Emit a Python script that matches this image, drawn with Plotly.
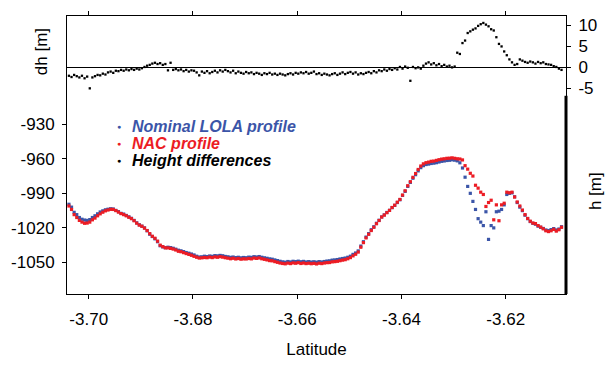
import plotly.graph_objects as go

latitude = [
    -3.7038, -3.7033, -3.7028, -3.7023, -3.7018, -3.7013, -3.7008, -3.7003, -3.6998, -3.6993,
    -3.6988, -3.6983, -3.6978, -3.6973, -3.6968, -3.6963, -3.6958, -3.6953, -3.6948, -3.6943,
    -3.6938, -3.6933, -3.6928, -3.6923, -3.6918, -3.6913, -3.6908, -3.6903, -3.6898, -3.6893,
    -3.6888, -3.6883, -3.6878, -3.6873, -3.6868, -3.6863, -3.6858, -3.6853, -3.6848, -3.6843,
    -3.6838, -3.6833, -3.6828, -3.6823, -3.6818, -3.6813, -3.6808, -3.6803, -3.6798, -3.6793,
    -3.6788, -3.6783, -3.6778, -3.6773, -3.6768, -3.6763, -3.6758, -3.6753, -3.6748, -3.6743,
    -3.6738, -3.6733, -3.6728, -3.6723, -3.6718, -3.6713, -3.6708, -3.6703, -3.6698, -3.6693,
    -3.6688, -3.6683, -3.6678, -3.6673, -3.6668, -3.6663, -3.6658, -3.6653, -3.6648, -3.6643,
    -3.6638, -3.6633, -3.6628, -3.6623, -3.6618, -3.6613, -3.6608, -3.6603, -3.6598, -3.6593,
    -3.6588, -3.6583, -3.6578, -3.6573, -3.6568, -3.6563, -3.6558, -3.6553, -3.6548, -3.6543,
    -3.6538, -3.6533, -3.6528, -3.6523, -3.6518, -3.6513, -3.6508, -3.6503, -3.6498, -3.6493,
    -3.6488, -3.6483, -3.6478, -3.6473, -3.6468, -3.6463, -3.6458, -3.6453, -3.6448, -3.6443,
    -3.6438, -3.6433, -3.6428, -3.6423, -3.6418, -3.6413, -3.6408, -3.6403, -3.6398, -3.6393,
    -3.6388, -3.6383, -3.6378, -3.6373, -3.6368, -3.6363, -3.6358, -3.6353, -3.6348, -3.6343,
    -3.6338, -3.6333, -3.6328, -3.6323, -3.6318, -3.6313, -3.6308, -3.6303, -3.6298, -3.6293,
    -3.6288, -3.6283, -3.6278, -3.6273, -3.6268, -3.6263, -3.6258, -3.6253, -3.6248, -3.6243,
    -3.6238, -3.6233, -3.6228, -3.6223, -3.6218, -3.6213, -3.6208, -3.6203, -3.6198, -3.6193,
    -3.6188, -3.6183, -3.6178, -3.6173, -3.6168, -3.6163, -3.6158, -3.6153, -3.6148, -3.6143,
    -3.6138, -3.6133, -3.6128, -3.6123, -3.6118, -3.6113, -3.6108, -3.6103, -3.6098, -3.6093,
]

lola_h = [
    -999.5, -1002, -1006.5, -1008.5, -1011, -1012.5, -1013.2, -1013.5, -1012.8, -1011,
    -1009.5, -1007.8, -1006.2, -1005.2, -1004.3, -1003.8, -1003.4, -1003.6, -1004.8, -1005.9,
    -1007.4, -1008, -1009.2, -1010.4, -1011.7, -1013.5, -1015.6, -1017.3, -1018.5, -1020,
    -1022.5, -1025.5, -1027.5, -1029.5, -1032, -1035.5, -1036.5, -1037.2, -1036.8, -1037.1,
    -1037.7, -1038.5, -1039.4, -1039.9, -1040.6, -1041.4, -1042, -1042.7, -1043.5, -1044.6,
    -1045.3, -1045.1, -1044.6, -1044.9, -1044.4, -1044.7, -1044.1, -1044.3, -1043.9, -1044.2,
    -1044.8, -1045.1, -1045.6, -1045.3, -1045.8, -1045.5, -1046, -1045.7, -1045.9, -1045.4,
    -1045.6, -1045, -1045.3, -1044.9, -1045.5, -1046, -1046.4, -1046.9, -1047.2, -1047.8,
    -1048.4, -1049, -1049.5, -1049.8, -1049.2, -1049.6, -1049, -1049.3, -1048.9, -1049.4,
    -1049.1, -1049.6, -1049.3, -1049.7, -1049.4, -1049.8, -1049.3, -1049.6, -1049.2, -1048.8,
    -1048.6, -1048, -1047.8, -1047.5, -1047, -1046.6, -1046.2, -1045.5, -1044.6, -1043,
    -1041.8, -1040, -1035.8, -1032, -1028, -1025, -1021.6, -1019, -1016, -1013.4,
    -1010.5, -1008.7, -1006.6, -1004.8, -1002.4, -1000.5, -998, -995.6, -991.8, -988.3,
    -984, -980.5, -976.9, -973.8, -970.5, -967.7, -966, -965, -964.6, -964.1,
    -963.8, -963.4, -962.8, -962.2, -961.9, -961.5, -961.3, -960.9, -961.2, -961.8,
    -963.5, -968, -976, -984, -990, -997, -1004, -1012, -1015, -1018,
    -1006, -1030, -1018, -1020, -1006, -1005.5, -1004, -1000, -991, -990,
    -989.6, -993, -998, -1002, -1005, -1009, -1012, -1014.5, -1016, -1016.8,
    -1018.5, -1019.5, -1020.5, -1021.8, -1022.3, -1021.5, -1020.6, -1021.8, -1021, -1019,
]

nac_h = [
    -1001, -1004, -1008.5, -1011, -1013.5, -1015, -1016, -1015.8, -1015, -1013,
    -1011.5, -1009.5, -1007.8, -1006.4, -1005.2, -1004.5, -1003.9, -1004, -1005, -1006.3,
    -1007.6, -1008.5, -1009.5, -1010.8, -1012, -1013.8, -1015.9, -1017.6, -1018.6, -1020.2,
    -1022.3, -1025, -1027.3, -1029, -1031.5, -1035, -1036.3, -1037.3, -1037.4, -1037.8,
    -1038.4, -1039.2, -1040.3, -1040.7, -1041.5, -1042.3, -1043, -1043.8, -1044.7, -1045.5,
    -1046.2, -1046, -1045.7, -1045.9, -1045.4, -1045.8, -1045.2, -1045.5, -1045, -1045.4,
    -1045.9, -1046.3, -1046.8, -1046.4, -1047, -1046.6, -1047.2, -1046.9, -1047, -1046.6,
    -1046.9, -1046.2, -1046.5, -1046.1, -1046.8, -1047.3, -1047.8, -1048.4, -1048.6, -1049.3,
    -1049.9, -1050.5, -1050.9, -1051.2, -1050.6, -1051, -1050.4, -1050.7, -1050.2, -1050.9,
    -1050.5, -1051, -1050.7, -1051.1, -1050.8, -1051.3, -1050.7, -1051, -1050.5, -1050.2,
    -1050.1, -1049.5, -1049.3, -1049, -1048.5, -1048, -1047.6, -1046.8, -1045.8, -1044.3,
    -1042.9, -1041, -1036.8, -1032.8, -1028.7, -1025.6, -1022.3, -1019.5, -1016.4, -1013.6,
    -1010.6, -1008.9, -1006.8, -1004.8, -1002.3, -1000.3, -997.7, -995.3, -991.5, -987.8,
    -983.4, -979.9, -976.1, -972.8, -969.3, -966.3, -964.4, -963.4, -962.9, -962.2,
    -962, -961.4, -960.8, -960.3, -960, -959.6, -959.5, -959.2, -959.6, -960,
    -960.2, -961, -966, -969, -972.6, -975, -983, -985.5, -989, -991,
    -1001.4, -998, -996, -1013, -1000, -1013.8, -1000, -998.6, -989, -989.5,
    -989, -993.2, -997.5, -1001, -1004.5, -1008.5, -1011.8, -1014.2, -1015.8, -1016.3,
    -1018, -1019.3, -1020.8, -1022.5, -1023.2, -1022.5, -1021.3, -1022.8, -1021.6, -1019.5,
]

height_diff = [
    -2.0, -2.3, -1.8, -2.1, -2.4, -2.0, -2.6, -2.2, -5.0, -2.4,
    -2.1, -1.8, -1.9, -1.5, -1.7, -1.2, -1.0, -1.3, -0.8, -0.9,
    -0.6, -0.8, -0.5, -0.7, -0.4, -0.6, -0.3, -0.5, -0.2, 0.1,
    0.4, 0.6, 0.9, 1.1, 0.8, 1.0, 0.6, 0.8, -0.7, 1.1,
    -0.6, -0.4, -0.7, -0.5, -0.9, -0.6, -1.0, -0.7, -0.8, -1.2,
    -1.9, -1.0, -1.3, -0.9, -1.4, -1.1, -0.8, -1.2, -0.7, -1.0,
    -0.6, -0.9, -1.2, -0.8, -1.4, -1.0, -1.3, -1.5, -1.1, -1.4,
    -1.2, -1.6, -1.3, -1.5, -1.8, -1.4, -1.6, -1.3, -1.7, -1.5,
    -1.8, -1.5, -1.7, -1.9, -1.6, -1.4, -1.7, -1.3, -1.5, -1.2,
    -1.4, -1.1, -1.5, -1.3, -1.0, -1.6, -1.4, -1.8, -1.5, -1.7,
    -1.9, -1.6, -1.4, -1.8, -1.5, -1.2, -1.6, -1.3, -1.1, -1.5,
    -1.2, -1.7, -1.4, -1.6, -1.3, -1.1, -1.4, -0.9, -1.2, -0.7,
    -0.9, -0.5, -0.8, -0.4, -0.6, -0.2, -0.5, 0.1, -0.3, 0.2,
    -0.1, -3.2, 0.1, -0.2, 0.0, -0.3, 0.4, 0.9, 1.2, 0.7,
    1.0, 0.5, 0.8, 0.3, 0.6, 0.2, 0.4, 0.0, 0.2, 3.5,
    3.2, 5.8, 6.4, 8.2, 8.6, 9.0, 9.3, 9.9, 10.3, 10.6,
    10.2, 9.8, 9.1, 8.8, 7.2, 5.6, 5.0, 3.8, 2.9, 1.9,
    1.2, 0.6, 0.8, 1.9, 1.6, 1.3, 1.1, 1.4, 1.2, 0.9,
    1.3, 1.0, 1.2, 0.8, 0.7, 0.6, 0.3, 0.1, -0.3, -0.6,
]

x_ticks = [-3.70, -3.68, -3.66, -3.64, -3.62]
x_tick_labels = ["-3.70", "-3.68", "-3.66", "-3.64", "-3.62"]
h_ticks = [-930, -960, -990, -1020, -1050]
h_tick_labels = ["-930", "-960", "-990", "-1020", "-1050"]
dh_ticks = [-5, 0, 5, 10]
dh_tick_labels = ["-5", "0", "5", "10"]
legend_labels = ["Nominal LOLA profile", "NAC profile", "Height differences"]

BLUE = "#3b55a8"
RED = "#ec1c24"
FONT = "Liberation Sans, Arial, sans-serif"
series_colors = [BLUE, RED, "black"]

fig = go.Figure()
fig.add_trace(go.Scatter(
    x=latitude, y=lola_h, mode="markers", yaxis="y",
    marker=dict(color=BLUE, size=3.2, symbol="square"), name=legend_labels[0],
))
fig.add_trace(go.Scatter(
    x=latitude, y=nac_h, mode="markers", yaxis="y",
    marker=dict(color=RED, size=3.2, symbol="square"), name=legend_labels[1],
))
fig.add_trace(go.Scatter(
    x=latitude, y=height_diff, mode="markers", yaxis="y2",
    marker=dict(color="black", size=2.3, symbol="square"), name=legend_labels[2],
))

# legend drawn as text so its rows sit as tightly as in the original
legend_rows_y = [0.6017, 0.5403, 0.4802]
annotations = []
for label, color, ly in zip(legend_labels, series_colors, legend_rows_y):
    annotations.append(dict(
        text="●", xref="paper", yref="paper", x=0.105, y=ly,
        xanchor="center", yanchor="middle", showarrow=False,
        font=dict(size=7, color=color)))
    annotations.append(dict(
        text=f"<b><i>{label}</i></b>", xref="paper", yref="paper", x=0.127, y=ly,
        xanchor="left", yanchor="middle", showarrow=False,
        font=dict(size=16, color=color, family=FONT)))

annotations += [
    dict(text="dh [m]", xref="paper", yref="paper", x=-0.052, y=0.87,
         xanchor="center", yanchor="middle", textangle=-90, showarrow=False,
         font=dict(size=17)),
    dict(text="h [m]", xref="paper", yref="paper", x=1.058, y=0.37,
         xanchor="center", yanchor="middle", textangle=-90, showarrow=False,
         font=dict(size=17)),
]

fig.update_layout(
    width=608, height=366,
    margin=dict(l=67, r=36, t=11, b=62),
    paper_bgcolor="white", plot_bgcolor="white",
    font=dict(family=FONT, size=17, color="black"),
    showlegend=False,
    xaxis=dict(
        range=[-3.70417, -3.60844], tickvals=x_ticks, ticktext=x_tick_labels,
        showgrid=False, zeroline=False, showline=True, linecolor="black", linewidth=1,
        mirror="ticks", ticks="outside", ticklen=4, tickcolor="black",
        ticklabelstandoff=6,
        title=dict(text="Latitude", font=dict(size=17), standoff=14),
    ),
    yaxis=dict(
        range=[-1077.4, -836.05], tickvals=h_ticks, ticktext=h_tick_labels,
        showgrid=False, zeroline=False, showline=True, linecolor="black", linewidth=1,
        ticks="outside", ticklen=4, tickcolor="black", ticklabelstandoff=4,
    ),
    yaxis2=dict(
        range=[-54.07, 12.26], tickvals=dh_ticks, ticktext=dh_tick_labels,
        overlaying="y", side="right",
        showgrid=False, zeroline=True, zerolinecolor="black", zerolinewidth=1,
        showline=True, linecolor="black", linewidth=1,
        ticks="outside", ticklen=4, tickcolor="black", ticklabelstandoff=4,
    ),
    shapes=[dict(type="line", xref="paper", yref="paper", x0=1, x1=1, y0=0, y1=0.713,
                 line=dict(color="black", width=3))],
    annotations=annotations,
)

fig.write_html("out.html", config={"displayModeBar": False},
               post_script="document.body.style.margin='0';")
